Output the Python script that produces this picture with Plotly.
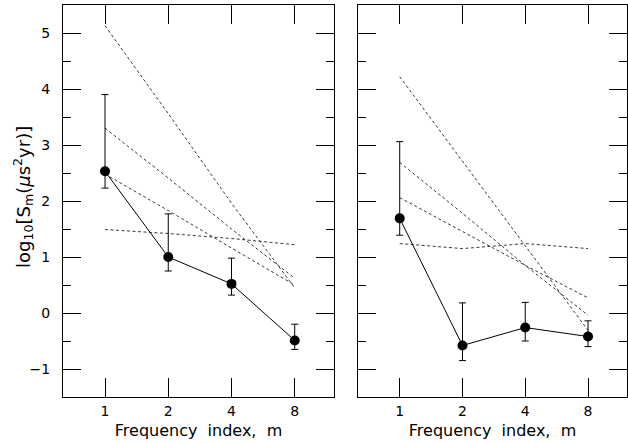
import plotly.graph_objects as go

m = [1, 2, 4, 8]
x_ticks = [1, 2, 4, 8]
x_tick_text = ["1", "2", "4", "8"]
y_ticks = [-1, 0, 1, 2, 3, 4, 5]

left_S = [2.53, 1.00, 0.52, -0.49]
left_hi = [3.90, 1.77, 0.98, -0.20]
left_lo = [2.23, 0.75, 0.32, -0.65]
left_models = [
    [5.13, 3.56, 1.96, 0.45],
    [3.30, 2.41, 1.50, 0.62],
    [2.48, 1.83, 1.16, 0.50],
    [1.49, 1.42, 1.33, 1.22],
]

right_S = [1.69, -0.58, -0.26, -0.42]
right_hi = [3.06, 0.18, 0.19, -0.14]
right_lo = [1.39, -0.85, -0.50, -0.60]
right_models = [
    [4.22, 2.71, 1.18, -0.31],
    [2.69, 1.78, 0.85, -0.04],
    [2.06, 1.46, 0.85, 0.27],
    [1.24, 1.15, 1.24, 1.15],
]

FONT = "DejaVu Sans"
fig = go.Figure()

panels = [("x", "y", left_S, left_hi, left_lo, left_models),
          ("x2", "y2", right_S, right_hi, right_lo, right_models)]
for xa, ya, S, hi, lo, models in panels:
    for mod in models:
        fig.add_trace(go.Scatter(x=m, y=mod, xaxis=xa, yaxis=ya, mode="lines",
                                 line=dict(color="#222", width=0.9, dash="3px,2.5px"),
                                 showlegend=False, hoverinfo="skip"))
    fig.add_trace(go.Scatter(
        x=m, y=S, xaxis=xa, yaxis=ya, mode="lines+markers",
        line=dict(color="black", width=1),
        marker=dict(color="black", size=10),
        error_y=dict(type="data", symmetric=False,
                     array=[h - s for h, s in zip(hi, S)],
                     arrayminus=[s - l for s, l in zip(S, lo)],
                     color="black", thickness=1, width=3.5),
        showlegend=False))

xcommon = dict(type="log", range=[-0.2, 1.09], tickvals=x_ticks, ticktext=x_tick_text,
               ticks="inside", ticklen=19, tickcolor="black", tickwidth=1,
               showline=True, linecolor="black", linewidth=1, mirror="ticks",
               showgrid=False, zeroline=False, ticklabelstandoff=1, automargin=False,
               tickfont=dict(family=FONT, size=14, color="black"),
               title=dict(text="Frequency  index,  m", standoff=7,
                          font=dict(family=FONT, size=16, color="black")))
ycommon = dict(range=[-1.5, 5.5], tickvals=y_ticks, ticks="inside", ticklen=18,
               tickcolor="black", tickwidth=1,
               minor=dict(dtick=0.5, ticks="inside", ticklen=8, tickcolor="black", tickwidth=1,
                          showgrid=False),
               showline=True, linecolor="black", linewidth=1, mirror="ticks",
               showgrid=False, zeroline=False, ticklabelstandoff=9, automargin=False,
               tickfont=dict(family=FONT, size=14, color="black"))

fig.update_layout(
    width=628, height=444, autosize=False,
    margin=dict(l=0, r=0, t=0, b=0),
    paper_bgcolor="white", plot_bgcolor="white",
    xaxis=dict(domain=[63/628, 334/628], anchor="y", **xcommon),
    xaxis2=dict(domain=[358/628, 627/628], anchor="y2", **xcommon),
    yaxis=dict(domain=[1-397/444, 1-5/444], anchor="x", **ycommon),
    yaxis2=dict(domain=[1-397/444, 1-5/444], anchor="x2", showticklabels=False, **ycommon),
    annotations=[dict(text="log<sub>10</sub>[S<sub>m</sub>(<i>μ</i>s<sup>2</sup>yr)]",
                      x=23/628, y=1-197/444, xref="paper", yref="paper",
                      textangle=-90, showarrow=False, xanchor="center", yanchor="middle",
                      font=dict(family=FONT, size=18, color="black"))],
)

fig.write_html("out.html", config={"displayModeBar": False},
               post_script="document.body.style.margin='0px';document.body.style.overflow='hidden';")
